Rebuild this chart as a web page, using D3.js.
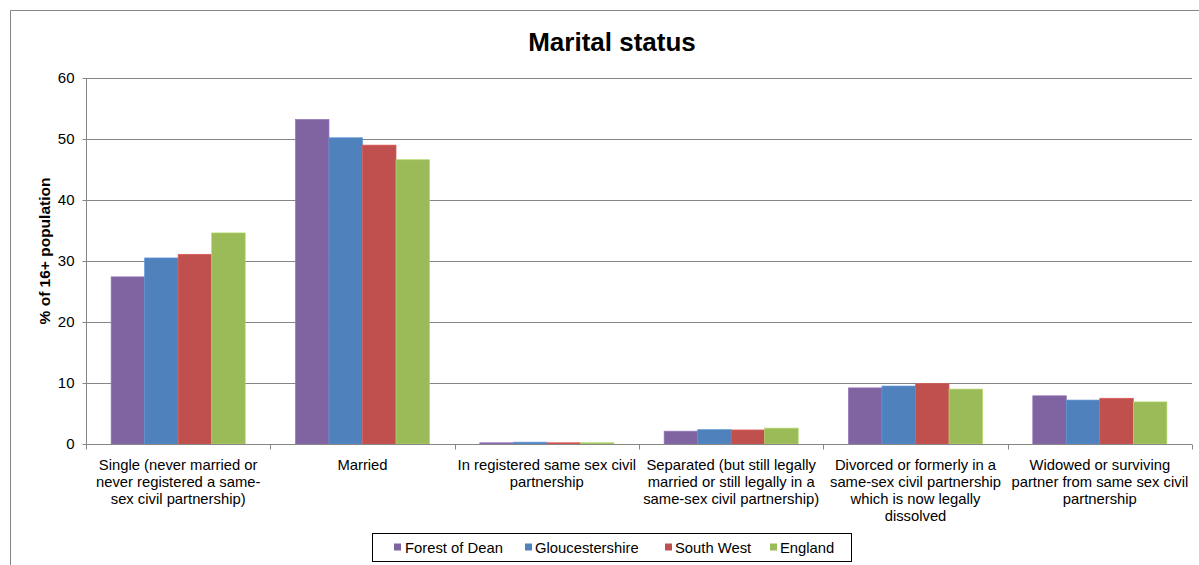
<!DOCTYPE html>
<html>
<head>
<meta charset="utf-8">
<script src="https://cdn.jsdelivr.net/npm/d3@7"></script>
<style>
  body { margin: 0; background: #fff; }
  text { font-family: "Liberation Sans", Arial, sans-serif; fill: #000; }
</style>
</head>
<body>
<div id="chart"></div>
<script>
// chart data
var categories = [
    "Single (never married or|never registered a same-|sex civil partnership)",
    "Married",
    "In registered same sex civil|partnership",
    "Separated (but still legally|married or still legally in a|same-sex civil partnership)",
    "Divorced or formerly in a|same-sex civil partnership|which is now legally|dissolved",
    "Widowed or surviving|partner from same sex civil|partnership"
];
var seriesNames = ["Forest of Dean", "Gloucestershire", "South West", "England"];
var forestOfDean = [27.4, 53.2, 0.2, 2.1, 9.2, 7.9];
var gloucestershire = [30.5, 50.2, 0.3, 2.35, 9.5, 7.2];
var southWest = [31.1, 49.0, 0.2, 2.3, 9.9, 7.5];
var england = [34.6, 46.6, 0.2, 2.6, 9.0, 6.9];
var yTicks = [0, 10, 20, 30, 40, 50, 60];
var colors = ["#8064A2", "#4F81BD", "#C0504D", "#9BBB59"];

var seriesValues = [forestOfDean, gloucestershire, southWest, england];

var W = 1199, H = 565;
var margin = {top: 78, right: 7, bottom: 121, left: 86},
    width = W - margin.left - margin.right,
    height = H - margin.top - margin.bottom;

var svg = d3.select("#chart").append("svg")
    .attr("width", W)
    .attr("height", H);

// outer chart border (only top and left visible)
svg.append("path")
    .attr("d", "M10.5,565 V10.5 H1199")
    .attr("fill", "none")
    .attr("stroke", "#868686")
    .attr("stroke-width", 1);

svg.append("text")
    .attr("x", 612)
    .attr("y", 51)
    .attr("text-anchor", "middle")
    .style("font-size", "26px")
    .style("font-weight", "bold")
    .text("Marital status");

var g = svg.append("g")
    .attr("transform", "translate(" + margin.left + "," + margin.top + ")");

var x0 = d3.scaleBand()
    .domain(d3.range(categories.length))
    .range([0, width]);

var x1 = d3.scaleBand()
    .domain(d3.range(seriesNames.length))
    .range([0, x0.bandwidth()])
    .paddingOuter(0.75);

var y = d3.scaleLinear()
    .domain([0, 60])
    .range([height, 0]);

// gridlines
g.append("g")
    .selectAll("line")
    .data(yTicks)
    .enter().append("line")
    .attr("x1", 0)
    .attr("x2", width)
    .attr("y1", function (d) { return Math.round(y(d)) + 0.5; })
    .attr("y2", function (d) { return Math.round(y(d)) + 0.5; })
    .attr("stroke", "#868686")
    .attr("stroke-width", 1);

// bars
var groups = g.append("g")
    .selectAll("g")
    .data(categories)
    .enter().append("g")
    .attr("transform", function (d, i) { return "translate(" + x0(i) + ",0)"; });

groups.selectAll("rect")
    .data(function (d, i) {
        return seriesValues.map(function (s, j) { return {s: j, v: s[i]}; });
    })
    .enter().append("rect")
    .attr("x", function (d) { return x1(d.s); })
    .attr("width", x1.bandwidth())
    .attr("y", function (d) { return y(d.v); })
    .attr("height", function (d) { return height - y(d.v); })
    .attr("fill", function (d) { return colors[d.s]; })
    .attr("stroke", function (d) { return d3.rgb(colors[d.s]).brighter(0.4); })
    .attr("stroke-width", 0.7);

// y axis
var yAxis = g.append("g")
    .attr("transform", "translate(0.5,0)")
    .call(d3.axisLeft(y).tickValues(yTicks).tickSize(4).tickPadding(8));
yAxis.select(".domain").attr("stroke", "#868686").attr("d", "M0," + (height + 0.5) + "V0.5");
yAxis.selectAll(".tick line").attr("stroke", "#868686");
yAxis.selectAll(".tick text")
    .style("font-size", "15px")
    .style("font-family", "Liberation Sans, Arial, sans-serif");

// x axis
var xAxis = g.append("g")
    .attr("transform", "translate(0," + (Math.round(height) + 0.5) + ")");
xAxis.append("line")
    .attr("x1", 0).attr("x2", width)
    .attr("stroke", "#868686");
xAxis.selectAll(".xt")
    .data(d3.range(categories.length + 1))
    .enter().append("line")
    .attr("x1", function (d) { return Math.round(d * x0.step()) + 0.5; })
    .attr("x2", function (d) { return Math.round(d * x0.step()) + 0.5; })
    .attr("y1", 0).attr("y2", 5)
    .attr("stroke", "#868686");

xAxis.selectAll(".xl")
    .data(categories)
    .enter().append("text")
    .attr("text-anchor", "middle")
    .style("font-size", "14.8px")
    .attr("transform", function (d, i) { return "translate(" + (x0(i) + x0.bandwidth() / 2) + ",25)"; })
    .each(function (d) {
        var t = d3.select(this);
        d.split("|").forEach(function (line, k) {
            t.append("tspan").attr("x", 0).attr("y", k * 17.2).text(line);
        });
    });

// y axis title
svg.append("text")
    .attr("transform", "translate(50,251) rotate(-90)")
    .attr("text-anchor", "middle")
    .style("font-size", "15.5px")
    .style("font-weight", "bold")
    .text("% of 16+ population");

// legend
var legend = svg.append("g");
legend.append("rect")
    .attr("x", 372.5).attr("y", 533.5)
    .attr("width", 479).attr("height", 28)
    .attr("fill", "none")
    .attr("stroke", "#000")
    .attr("stroke-width", 1);

var legendX = [394, 525, 665, 770];
var items = legend.selectAll(".li")
    .data(seriesNames)
    .enter().append("g")
    .attr("transform", function (d, i) { return "translate(" + legendX[i] + ",547)"; });
items.append("rect")
    .attr("x", 0).attr("y", -3.5)
    .attr("width", 7).attr("height", 7)
    .attr("fill", function (d, i) { return colors[i]; });
items.append("text")
    .attr("x", function (d, i) { return i === 0 ? 11 : 10; })
    .attr("y", 5.5)
    .style("font-size", "14.8px")
    .text(function (d) { return d; });
</script>
</body>
</html>
